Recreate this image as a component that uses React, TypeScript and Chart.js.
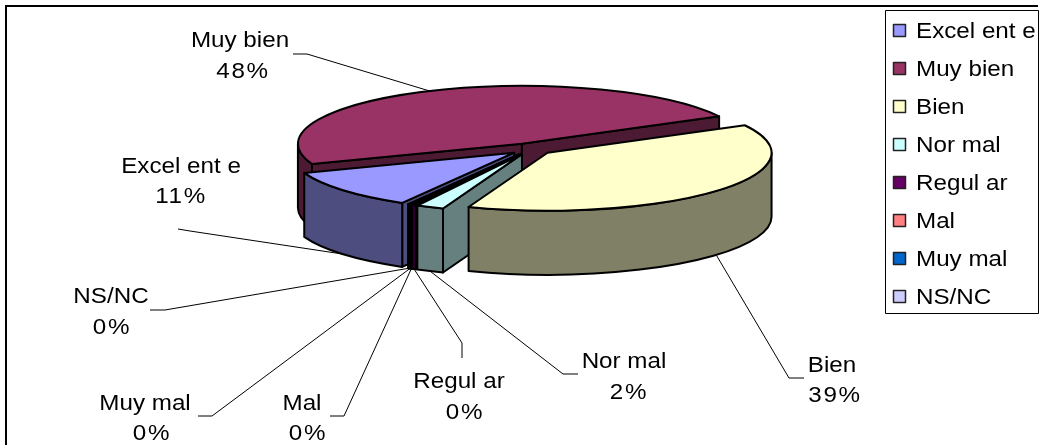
import React, { useEffect, useRef } from "react";
import { Chart, registerables } from "chart.js";

Chart.register(...registerables);

const categories = ["Excel ent e", "Muy bien", "Bien", "Nor mal", "Regul ar", "Mal", "Muy mal", "NS/NC"];
const shares = [11.0, 47.8, 38.6, 2.0, 0.3, 0.1, 0.1, 0.1];
const topColors = ["#9999FF", "#993366", "#FFFFCC", "#CCFFFF", "#660066", "#FF8080", "#0066CC", "#CCCCFF"];
const wallColors = ["#4D4D80", "#4D1A33", "#808066", "#668080", "#330033", "#804040", "#003366", "#666680"];

// label placement: text centre x, first line y, second line centre x, elbow start/end x,y
const labelLayout = [
  { x: 181, y: 167, x2: 181, y2: 197, elbow: [[178, 229], [190, 231]] },
  { x: 240, y: 41, x2: 243, y2: 72, elbow: [[293, 54], [307, 54]] },
  { x: 832, y: 366, x2: 835, y2: 396, elbow: [[804, 378], [789, 378]] },
  { x: 624, y: 362, x2: 629, y2: 393, elbow: [[578, 374], [563, 374]] },
  { x: 459, y: 382, x2: 465, y2: 413, elbow: [[462, 358], [462, 343]] },
  { x: 302, y: 404, x2: 308, y2: 434, elbow: [[330, 416], [344, 416]] },
  { x: 145, y: 404, x2: 152, y2: 434, elbow: [[198, 416], [212, 416]] },
  { x: 111, y: 297, x2: 112, y2: 328, elbow: [[150, 310], [165, 310]] },
];

const FONT = "22px 'Liberation Sans', Arial, sans-serif";
const SQUASH = 0.259;
const DEPTH = 64;
const EXPLODE = 22;
const TAU = Math.PI * 2;
const STRETCH = 1.1;

const pie3d = {
  id: "pie3d",
  beforeDatasetsDraw(chart: any) {
    const ctx: any = chart.ctx;
    const arcs: any[] = chart.getDatasetMeta(0).data;
    const total = shares.reduce((a, b) => a + b, 0);
    ctx.save();

    const wideText = (text: string, x: number, y: number, spacing = "0px") => {
      ctx.save();
      ctx.letterSpacing = spacing;
      ctx.translate(x, y);
      ctx.scale(STRETCH, 1);
      ctx.fillText(text, 0, 0);
      ctx.restore();
    };

    // outer frame: left and top edges only are visible in the picture
    ctx.strokeStyle = "#000";
    ctx.lineWidth = 2;
    ctx.beginPath();
    ctx.moveTo(6, 445);
    ctx.lineTo(6, 6);
    ctx.lineTo(1038, 6);
    ctx.stroke();

    const geom = arcs.map((a, i) => {
      const mid = (a.startAngle + a.endAngle) / 2;
      const rx = a.outerRadius;
      const ry = rx * SQUASH;
      const cx = a.x + Math.cos(mid) * EXPLODE;
      const cy = a.y + Math.sin(mid) * EXPLODE * SQUASH;
      return { i, a, mid, rx, ry, cx, cy, s: a.startAngle, e: a.endAngle };
    });

    // leader lines and labels, beneath the pie
    ctx.lineWidth = 1;
    ctx.font = FONT;
    ctx.textBaseline = "middle";
    ctx.textAlign = "center";
    ctx.fillStyle = "#000";
    geom.forEach((g) => {
      const l = labelLayout[g.i];
      const sin = Math.sin(g.mid);
      const tx = g.cx + Math.cos(g.mid) * g.rx;
      const ty = g.cy + sin * g.ry + (sin > 0 ? DEPTH : 0);
      ctx.beginPath();
      ctx.moveTo(l.elbow[0][0], l.elbow[0][1]);
      ctx.lineTo(l.elbow[1][0], l.elbow[1][1]);
      ctx.lineTo(tx, ty);
      ctx.stroke();
      wideText(categories[g.i], l.x, l.y);
      wideText(Math.round((shares[g.i] / total) * 100) + "%", l.x2, l.y2, "1.5px");
    });

    // slices back to front
    ctx.lineWidth = 2;
    ctx.lineJoin = "round";
    ctx.strokeStyle = "#000";
    const paint = (fill: string) => {
      ctx.fillStyle = fill;
      ctx.fill();
      ctx.stroke();
    };
    const depthKey = (g: any) => {
      const n = (g.s + Math.PI / 2) % TAU;
      return n < 0 ? n + TAU : n;
    };
    [...geom].sort((p, q) => depthKey(q) - depthKey(p)).forEach((g) => {
      const pt = (t: number) => [g.cx + Math.cos(t) * g.rx, g.cy + Math.sin(t) * g.ry];
      const wall = wallColors[g.i];
      const cut = (t: number) => {
        const [x, y] = pt(t);
        ctx.beginPath();
        ctx.moveTo(g.cx, g.cy);
        ctx.lineTo(x, y);
        ctx.lineTo(x, y + DEPTH);
        ctx.lineTo(g.cx, g.cy + DEPTH);
        ctx.closePath();
        paint(wall);
      };
      if (Math.cos(g.s) < 0) cut(g.s);
      if (Math.cos(g.e) > 0) cut(g.e);
      // outer wall: the part of the rim facing the viewer
      for (const k of [-1, 0, 1, 2]) {
        const from = Math.max(g.s, k * TAU);
        const to = Math.min(g.e, k * TAU + Math.PI);
        if (to > from) {
          ctx.beginPath();
          ctx.ellipse(g.cx, g.cy, g.rx, g.ry, 0, from, to);
          ctx.ellipse(g.cx, g.cy + DEPTH, g.rx, g.ry, 0, to, from, true);
          ctx.closePath();
          paint(wall);
        }
      }
      ctx.beginPath();
      ctx.moveTo(g.cx, g.cy);
      ctx.ellipse(g.cx, g.cy, g.rx, g.ry, 0, g.s, g.e);
      ctx.closePath();
      paint(topColors[g.i]);
    });

    // legend
    ctx.fillStyle = "#fff";
    ctx.fillRect(885, 10, 154, 304);
    ctx.strokeStyle = "#000";
    ctx.lineWidth = 1;
    ctx.strokeRect(885.5, 10.5, 153, 303);
    ctx.textAlign = "left";
    ctx.font = FONT;
    categories.forEach((c, i) => {
      const y = 31 + i * 38;
      ctx.fillStyle = topColors[i];
      ctx.fillRect(893.5, y - 6.5, 12, 12);
      ctx.strokeStyle = "#222";
      ctx.lineWidth = 1.5;
      ctx.strokeRect(893.5, y - 6.5, 12, 12);
      ctx.fillStyle = "#000";
      wideText(c, 916, y + 1);
    });
    ctx.restore();
    return false;
  },
};

export default function App() {
  const ref = useRef<HTMLCanvasElement>(null);
  useEffect(() => {
    document.body.style.margin = "0";
    document.body.style.background = "#fff";
    const chart = new Chart(ref.current!, {
      type: "pie",
      data: {
        labels: categories,
        datasets: [{ data: shares, backgroundColor: topColors, borderColor: "#000", borderWidth: 2 }],
      },
      options: {
        responsive: false,
        animation: false,
        rotation: 210,
        radius: 224,
        layout: { padding: { left: 20, right: 0, top: 8, bottom: 155 } },
        plugins: { legend: { display: false }, tooltip: { enabled: false } },
      } as any,
      plugins: [pie3d as any],
    });
    return () => chart.destroy();
  }, []);
  return <canvas ref={ref} width={1042} height={445} style={{ display: "block" }} />;
}
